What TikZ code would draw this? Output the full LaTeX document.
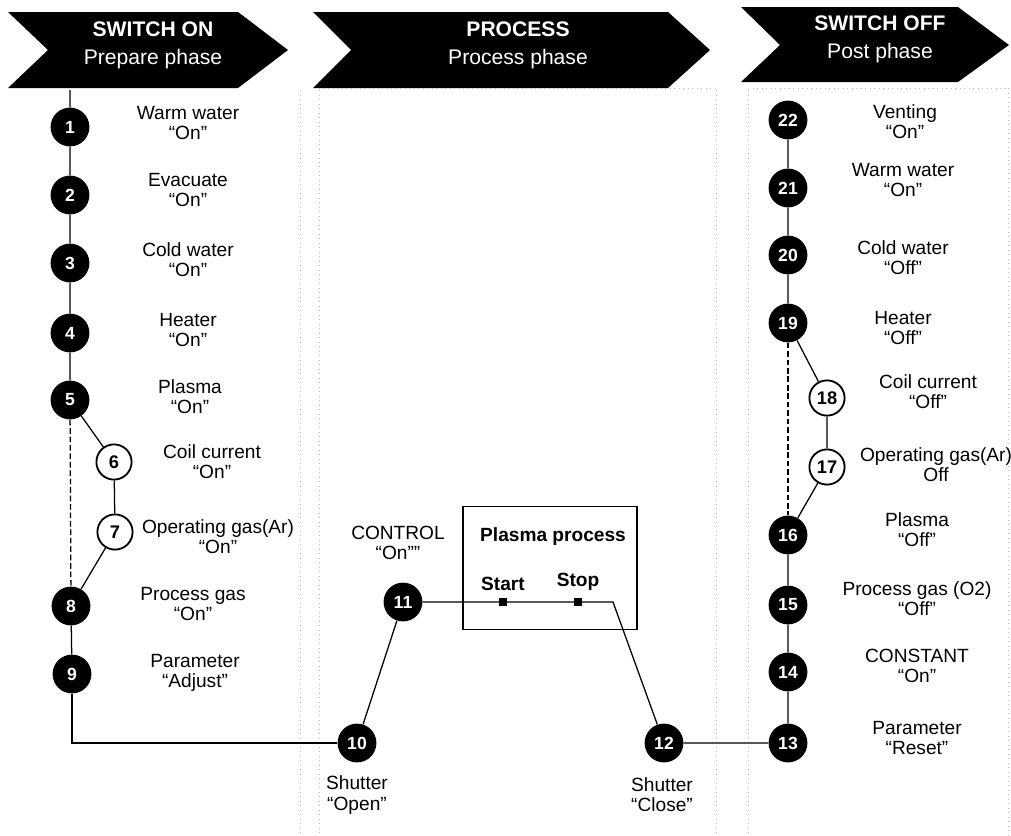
\documentclass[tikz,border=0pt]{standalone}
\usepackage{fontspec}
\setmainfont{Liberation Sans}
\usetikzlibrary{positioning,calc}

\begin{document}
\begin{tikzpicture}[x=0.025cm,y=-0.025cm,
    ball/.style={circle,fill=black,minimum size=0.97cm,inner sep=0pt,text=white,font=\bfseries\fontsize{12.5}{12.5}\selectfont},
    ring/.style={circle,draw,line width=1.3pt,fill=white,minimum size=0.88cm,inner sep=0pt,font=\bfseries\fontsize{13}{13}\selectfont},
    lbl/.style={align=center,inner sep=0pt,font=\fontsize{13.6}{14.4}\selectfont},
    phase/.style={align=center,inner sep=0pt,text=white,font=\fontsize{15}{20}\selectfont},
    colline/.style={gray!55,line width=.5pt,dash pattern=on .6pt off 2.6pt},
    mark box/.style={fill=black,minimum size=5pt,inner sep=0pt}]
\useasboundingbox (0,0) rectangle (1011,835);

\fill (8,12) -- (238,12) -- (288,50) -- (238,88) -- (8,88) -- (48,50) -- cycle;
\fill (313,12) -- (668,12) -- (710,50) -- (668,88) -- (313,88) -- (351,50) -- cycle;
\fill (741,7) -- (958,7) -- (1009,45) -- (958,82) -- (741,82) -- (780,45) -- cycle;
\node[phase] (ph1) at (153,45) {\textbf{SWITCH ON}\\Prepare phase};
\node[phase] (ph2) at (518,45) {\textbf{PROCESS}\\Process phase};
\node[phase] (ph3) at (880,39) {\textbf{SWITCH OFF}\\Post phase};

\draw[colline] (300,90) -- (300,835);
\draw[colline] (319,90) -- (319,835);
\draw[colline] (716,90) -- (716,835);
\draw[colline] (748,90) -- (748,835);
\draw[colline] (1008,88) -- (1008,835);
\draw[colline] (319,88) -- (716,88);
\draw[colline] (748,88) -- (1008,88);

% prepare phase
\coordinate (top) at (70,90);
\node[ball] (n1) at (70,127) {1};
\node[ball] (n2) at (70,195) {2};
\node[ball] (n3) at (70,263) {3};
\node[ball] (n4) at (70,333) {4};
\node[ball] (n5) at (70,400) {5};
\node[ring] (n6) at (114,462) {6};
\node[ring] (n7) at (115,532) {7};
\node[ball] (n8) at (71,606) {8};
\node[ball] (n9) at (72,674) {9};

\node[lbl] (t1) at (188,123) {Warm water\\“On”};
\node[lbl] (t2) at (188,190) {Evacuate\\“On”};
\node[lbl] (t3) at (188,260) {Cold water\\“On”};
\node[lbl] (t4) at (188,330) {Heater\\“On”};
\node[lbl] (t5) at (190,397) {Plasma\\“On”};
\node[lbl] (t6) at (212,462) {Coil current\\“On”};
\node[lbl] (t7) at (218,537) {Operating gas(Ar)\\“On”};
\node[lbl] (t8) at (193,604) {Process gas\\“On”};
\node[lbl] (t9) at (195,673) {Parameter\\“Adjust”};

% process phase
\node[ball] (n10) at (357,743) {10};
\node[ball] (n11) at (403,602) {11};
\node[ball] (n12) at (664,743) {12};
\node[lbl] (t10) at (357,795) {Shutter\\“Open”};
\node[lbl] (t11) at (398,543) {CONTROL\\“On””};
\node[lbl] (t12) at (662,795) {Shutter\\“Close”};

\node[draw,line width=.8pt,minimum width=4.35cm,minimum height=3.075cm] (pbox) at (550,568) {};
\node[lbl,font=\bfseries\fontsize{13.6}{14.4}\selectfont] (ptitle) at (553,537) {Plasma process};
\node[mark box] (start) at (503,602) {};
\node[mark box] (stop) at (578,602) {};
\node[lbl,font=\bfseries\fontsize{13.6}{14.4}\selectfont,above=5pt of start] (tstart) {Start};
\node[lbl,font=\bfseries\fontsize{13.6}{14.4}\selectfont,above=5pt of stop] (tstop) {Stop};
\coordinate (bend) at (613,602);

% post phase
\node[ball] (n13) at (788,743) {13};
\node[ball] (n14) at (788,672) {14};
\node[ball] (n15) at (788,605) {15};
\node[ball] (n16) at (788,535) {16};
\node[ring] (n17) at (827,467) {17};
\node[ring] (n18) at (827,398) {18};
\node[ball] (n19) at (788,323) {19};
\node[ball] (n20) at (788,255) {20};
\node[ball] (n21) at (788,188) {21};
\node[ball] (n22) at (788,120) {22};

\node[lbl] (t22) at (905,122) {Venting\\“On”};
\node[lbl] (t21) at (903,180) {Warm water\\“On”};
\node[lbl] (t20) at (903,258) {Cold water\\“Off”};
\node[lbl] (t19) at (903,328) {Heater\\“Off”};
\node[lbl] (t18) at (928,392) {Coil current\\“Off”};
\node[lbl] (t17) at (936,465) {Operating gas(Ar)\\Off};
\node[lbl] (t16) at (917,530) {Plasma\\“Off”};
\node[lbl] (t15) at (917,599) {Process gas (O2)\\“Off”};
\node[lbl] (t14) at (917,666) {CONSTANT\\“On”};
\node[lbl] (t13) at (917,738) {Parameter\\“Reset”};

% connectors
\draw[line width=.9pt] (top) -- (n1) -- (n2) -- (n3) -- (n4) -- (n5) -- (n6) -- (n7) -- (n8) -- (n9);
\draw[line width=.9pt,dash pattern=on 4pt off 2pt] (n5) -- (n8);
\draw[line width=.9pt] (n9) |- (n10);
\draw[line width=.9pt] (n10) -- (n11);
\draw[line width=.9pt] (n11) -- (start) -- (stop) -- (bend) -- (n12);
\draw[line width=.9pt] (n12) -- (n13) -- (n14) -- (n15) -- (n16) -- (n17) -- (n18) -- (n19) -- (n20) -- (n21) -- (n22);
\draw[line width=.9pt,dash pattern=on 4pt off 2pt] (n19) -- (n16);
\end{tikzpicture}
\end{document}
